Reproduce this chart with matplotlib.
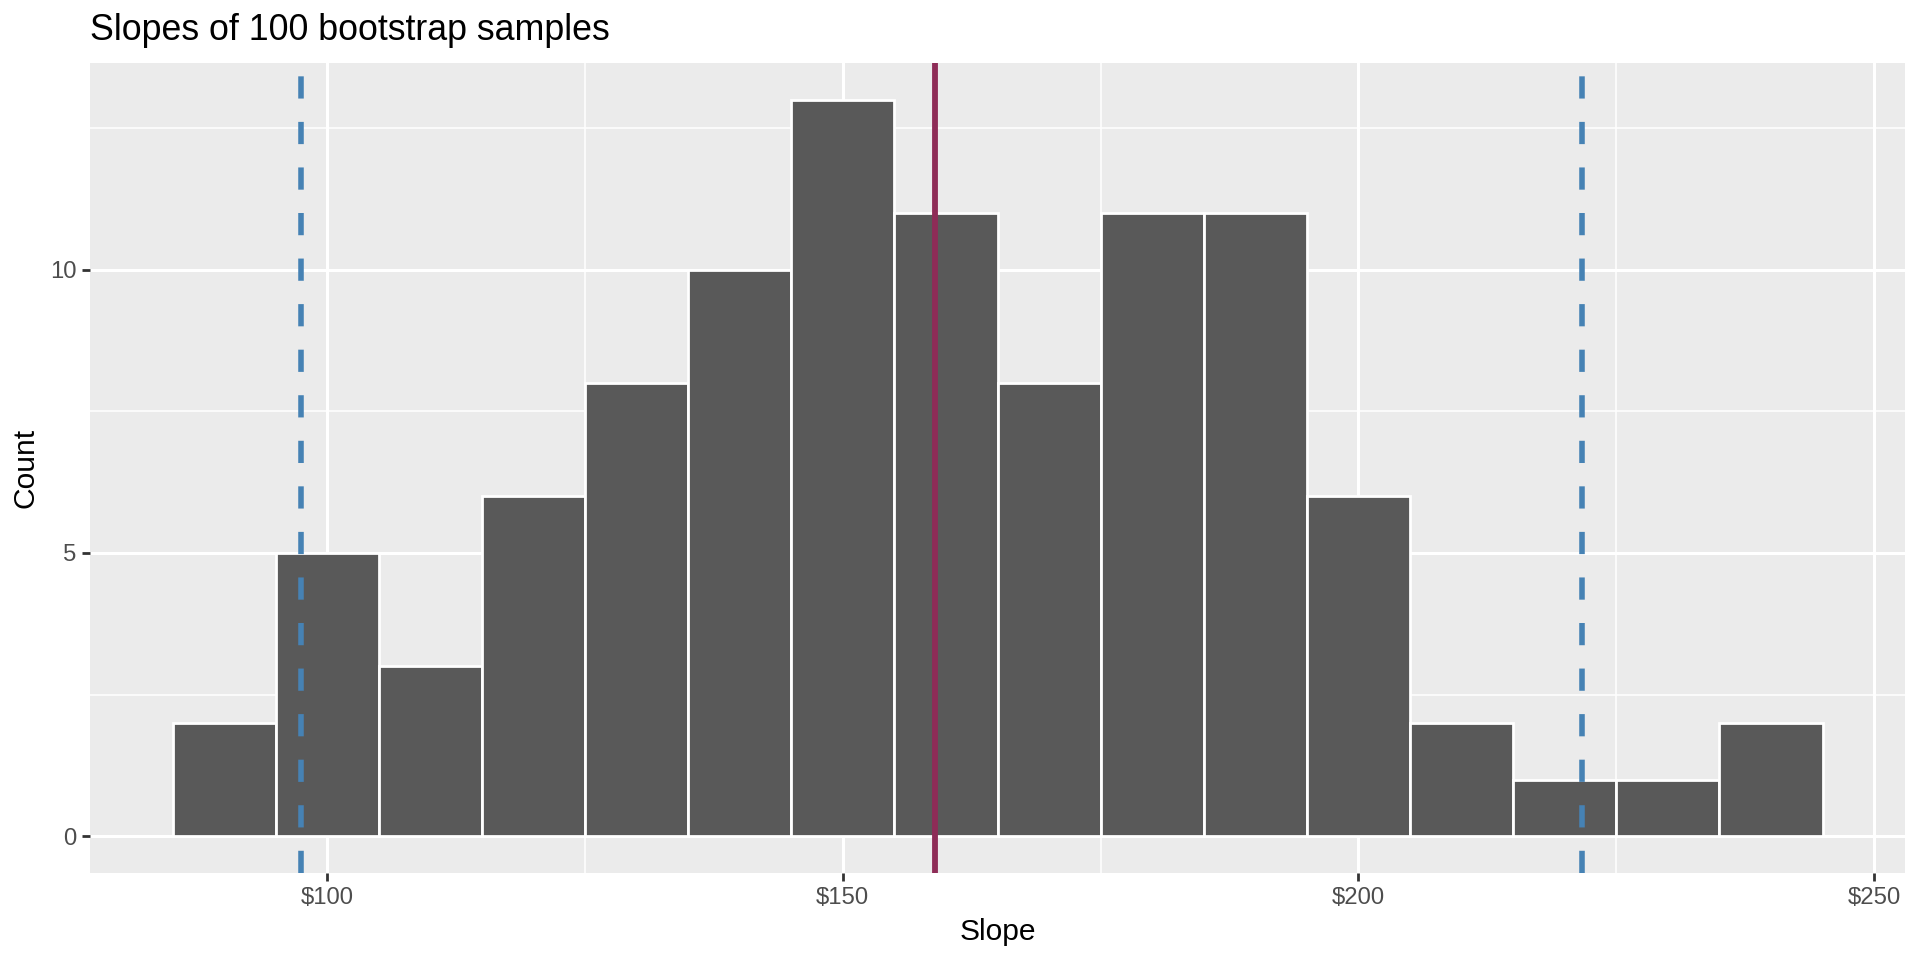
import numpy as np
from matplotlib import pyplot as plt
from matplotlib.ticker import FixedLocator, FuncFormatter

# histogram of bootstrap slopes (bin width 10)
bin_left = [85, 95, 105, 115, 125, 135, 145, 155, 165, 175, 185, 195, 205, 215, 225, 235]
counts = [2, 5, 3, 6, 8, 10, 13, 11, 8, 11, 11, 6, 2, 1, 1, 2]
bin_width = 10

# reference lines
ci_bounds = [97.5, 221.7]
observed_slope = 158.9

x_major = [100, 150, 200, 250]
x_minor = [75, 125, 175, 225]
y_major = [0, 5, 10]
y_minor = [2.5, 7.5, 12.5]

plt.rcParams['font.family'] = ['Liberation Sans', 'DejaVu Sans']

fig = plt.figure(figsize=(9.6, 4.8), dpi=200)
ax = fig.add_axes([90 / 1920, 87 / 960, 1815 / 1920, 810 / 960])
ax.set_facecolor('#EBEBEB')
for sp in ax.spines.values():
    sp.set_visible(False)

ax.set_xlim(77, 253)
ax.set_ylim(-0.65, 13.65)

# grid
ax.xaxis.set_major_locator(FixedLocator(x_major))
ax.xaxis.set_minor_locator(FixedLocator(x_minor))
ax.yaxis.set_major_locator(FixedLocator(y_major))
ax.yaxis.set_minor_locator(FixedLocator(y_minor))
ax.grid(which='major', color='white', linewidth=1.1)
ax.grid(which='minor', color='white', linewidth=0.55)
ax.set_axisbelow(True)

ax.bar(bin_left, counts, width=bin_width, align='edge',
       color='#595959', edgecolor='white', linewidth=1.0, zorder=2)

for b in ci_bounds:
    ax.axvline(b, color='#4682B4', linewidth=2.0, linestyle=(0, (4.0, 4.2)), zorder=3)
ax.axvline(observed_slope, color='#8E2C57', linewidth=2.1, zorder=3)

ax.xaxis.set_major_formatter(FuncFormatter(lambda v, p: '\\$%d' % v))
ax.tick_params(which='major', length=2.75, width=1.0, color='#333333',
               labelcolor='#4D4D4D', labelsize=8.6, pad=2.2)
ax.tick_params(which='minor', length=0)

ax.set_xlabel('Slope', fontsize=10.8)
ax.set_ylabel('Count', fontsize=10.8)
ax.xaxis.set_label_coords(0.5, -0.055)
ax.yaxis.set_label_coords(-0.028, 0.5)

fig.text(90 / 1920, 1 - 40 / 960, 'Slopes of 100 bootstrap samples',
         fontsize=12.9, ha='left', va='baseline')

fig.savefig('out.png', dpi=200)
